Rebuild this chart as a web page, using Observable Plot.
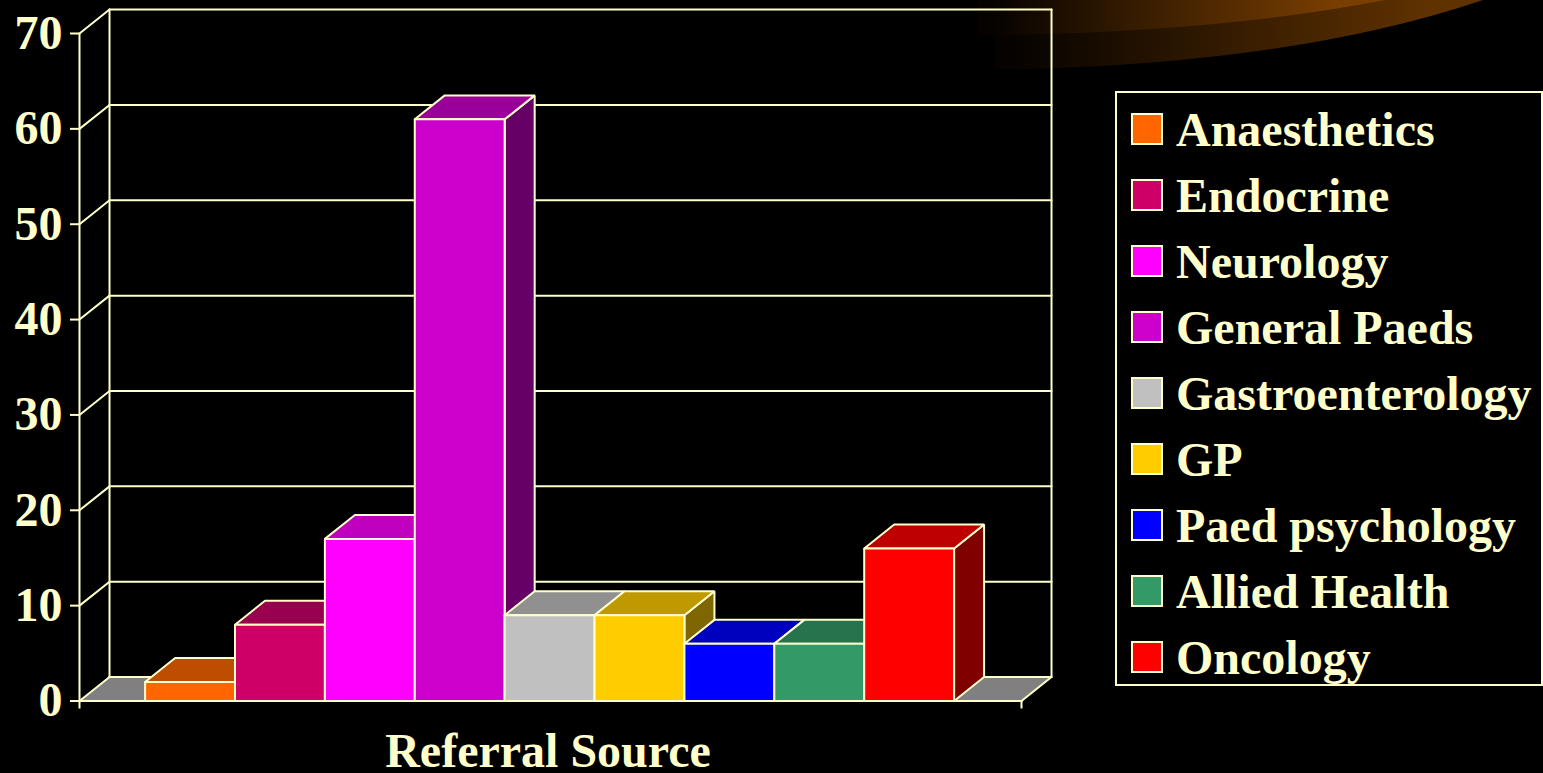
<!DOCTYPE html>
<html>
<head>
<meta charset="utf-8">
<script src="https://cdn.jsdelivr.net/npm/d3@7"></script>
<script src="https://cdn.jsdelivr.net/npm/@observablehq/plot@0.6"></script>
<style>
  html, body { margin: 0; padding: 0; background: #000; overflow: hidden; }
  #stage { position: relative; width: 1543px; height: 773px; background: #000; overflow: hidden; font-family: "Liberation Serif", serif; font-weight: bold; color: #FFFFCC; }
  #swoosh { position: absolute; left: 0; top: 0; }
  #chart { position: absolute; left: 0; top: 0; }
  #legend { position: absolute; left: 1115px; top: 91px; width: 428px; height: 595px; box-sizing: border-box; border: 2px solid #FFFFCC; }
  .row { position: absolute; left: 0; height: 66px; white-space: nowrap; font-size: 48px; line-height: 66px; }
  .swatch { position: absolute; left: 14px; width: 28px; height: 28px; border: 2px solid #FFFFCC; }
  .name { position: absolute; left: 59px; top: 0; }
</style>
</head>
<body>
<div id="stage">
  <svg id="swoosh" width="1543" height="773">
    <defs>
      <linearGradient id="g1" gradientUnits="userSpaceOnUse" x1="1010" x2="1430" y1="0" y2="0">
        <stop offset="0" stop-color="#050200"/>
        <stop offset="1" stop-color="#603200"/>
      </linearGradient>
      <linearGradient id="g2" gradientUnits="userSpaceOnUse" x1="990" x2="1340" y1="0" y2="0">
        <stop offset="0" stop-color="#050200"/>
        <stop offset="1" stop-color="#7a3f00"/>
      </linearGradient>
    </defs>
    <path d="M995,69 L1025,69 Q1300,62 1483,0 L995,0 Z" fill="url(#g1)"/>
    <path d="M978,35 L995,35 Q1220,32 1385,0 L978,0 Z" fill="url(#g2)"/>
  </svg>
  <div id="chart"></div>
  <div id="legend"></div>
</div>
<script>
const categories = ["Anaesthetics","Endocrine","Neurology","General Paeds","Gastroenterology","GP","Paed psychology","Allied Health","Oncology"];
const values = [2, 8, 17, 61, 9, 9, 6, 6, 16];
const colors = ["#FF6600","#CC0066","#FF00FF","#CC00CC","#C0C0C0","#FFCC00","#0000FF","#339966","#FF0000"];
const yTicks = [0,10,20,30,40,50,60,70];
const axisLabel = "Referral Source";
const ink = "#FFFFCC";
const floorColor = "#808080";

// Category axis in bar-width units: bar i spans i..i+1; pads either side of the row of bars.
const xStart = -0.73, xEnd = 9.75;
// Oblique depth of the 3D box in scale units.
const depthX = 0.334, depthY = 2.51;
const yMax = 70;

const shade = (c, k) => { const r = d3.rgb(c); return d3.rgb(r.r*k, r.g*k, r.b*k).formatHex(); };

const polys = [];
function poly(id, fill, pts) { pts.concat([pts[0]]).forEach(([x,y]) => polys.push({id, fill, x, y})); }

poly("floor", floorColor, [[xStart,0],[xEnd,0],[xEnd+depthX,depthY],[xStart+depthX,depthY]]);
values.forEach((v,i) => {
  const a = i, b = i+1, c = colors[i];
  poly(`s${i}`, shade(c,0.5), [[b,0],[b+depthX,depthY],[b+depthX,v+depthY],[b,v]]);
  poly(`t${i}`, shade(c,0.75), [[a,v],[b,v],[b+depthX,v+depthY],[a+depthX,v+depthY]]);
  poly(`f${i}`, c, [[a,0],[b,0],[b,v],[a,v]]);
});

const wallLines = [];
yTicks.forEach(t => {
  wallLines.push({id:`d${t}`, x:xStart, y:t}, {id:`d${t}`, x:xStart+depthX, y:t+depthY});
  wallLines.push({id:`h${t}`, x:xStart+depthX, y:t+depthY}, {id:`h${t}`, x:xEnd+depthX, y:t+depthY});
});
[["front",xStart,0,yMax],["back",xStart+depthX,depthY,yMax+depthY],["right",xEnd+depthX,depthY,yMax+depthY]].forEach(([id,x,y0,y1]) => {
  wallLines.push({id,x,y:y0},{id,x,y:y1});
});
wallLines.push({id:"base",x:xStart,y:0},{id:"base",x:xEnd,y:0});
wallLines.push({id:"fr",x:xEnd,y:0},{id:"fr",x:xEnd+depthX,y:depthY});

const font = {fontFamily:'"Liberation Serif", serif', fontWeight:"bold", fontSize:48};

const plot = Plot.plot({
  width: 1543, height: 773,
  marginLeft: 79, marginRight: 522, marginTop: 33, marginBottom: 72.5,
  style: {background:"transparent", color: ink, overflow:"visible"},
  x: {domain:[xStart,xEnd], axis:null},
  y: {domain:[0,yMax], axis:null},
  marks: [
    Plot.line(polys.filter(d => d.id==="floor"), {x:"x", y:"y", z:"id", fill:"fill", stroke:"none", curve:"linear"}),
    Plot.line(wallLines, {x:"x", y:"y", z:"id", stroke:ink, strokeWidth:2, curve:"linear"}),
    Plot.line(polys.filter(d => d.id!=="floor"), {x:"x", y:"y", z:"id", fill:"fill", stroke:ink, strokeWidth:2, strokeLinejoin:"miter", curve:"linear"}),
    Plot.line(wallLines.filter(d => d.id==="base"), {x:"x", y:"y", z:"id", stroke:ink, strokeWidth:2, curve:"linear"}),
    Plot.axisY({ticks:yTicks, tickSize:9, tickPadding:8, stroke:ink, fill:ink, strokeWidth:2, label:null, ...font}),
    Plot.axisX({ticks:[xStart,xEnd], tickFormat:()=>"", tickSize:8, stroke:ink, strokeWidth:2, label:null}),
    Plot.text([axisLabel], {frameAnchor:"bottom", lineAnchor:"middle", text:d=>d, fill:ink, dx:-2.5, dy:51, ...font})
  ]
});
document.getElementById("chart").appendChild(plot);

const legend = document.getElementById("legend");
categories.forEach((name,i) => {
  const row = document.createElement("div");
  row.className = "row";
  row.style.top = (4 + i*66) + "px";
  const sw = document.createElement("span");
  sw.className = "swatch";
  sw.style.background = colors[i];
  sw.style.top = "16px";
  const tx = document.createElement("span");
  tx.className = "name";
  tx.textContent = name;
  row.append(sw, tx);
  legend.appendChild(row);
});
</script>
</body>
</html>
